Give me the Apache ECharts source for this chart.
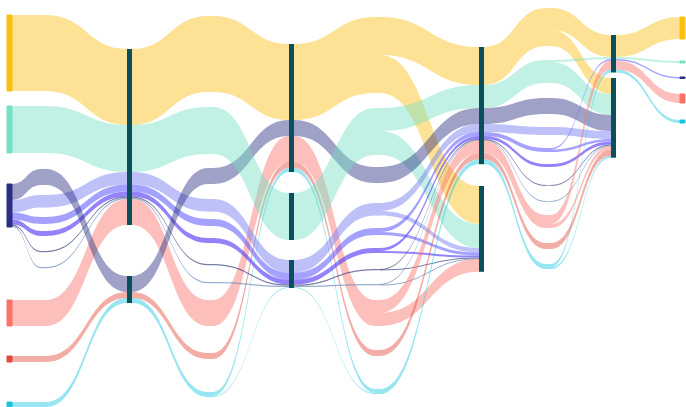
<!DOCTYPE html>
<html><head><meta charset="utf-8">
<script src="https://cdn.jsdelivr.net/npm/echarts@6/dist/echarts.min.js"></script>
<style>html,body{margin:0;padding:0;background:#fff}#c{width:686px;height:407px}</style>
</head><body><div id="c"></div>
<script>
// ---------------- DATA ----------------
// columns of nodes (top to bottom)
const sources  = ['Y-in','T-in','N-in','S-in','R-in','C-in'];
const hopFlows = ['Y','T','N','B1','B2','B3','G1','G2','S','R','C'];
const stage1 = ['s1-top','s1-low'];
const stage2 = ['s2-top','s2-mid','s2-low'];
const stage3 = ['s3-top','s3-low'];
const stage4 = ['s4-top','s4-low'];
const outcomes = ['Y-out','T-out','N-out','S-out','C-out'];

// links: [source, target, value, flow]
const seg01 = [['Y-in','Y@1',76,'Y'],['T-in','T@1',47,'T'],['N-in','N@1',16,'N'],['N-in','B1@1',12.6,'B1'],['N-in','B2@1',7,'B2'],['N-in','B3@1',5,'B3'],['N-in','G1@1',1.2,'G1'],['N-in','G2@1',1.2,'G2'],['S-in','S@1',26,'S'],['R-in','R@1',6,'R'],['C-in','C@1',5,'C']];
const seg12 = [['Y@1','s1-top',76,'Y'],['T@1','s1-top',47,'T'],['B1@1','s1-top',12.6,'B1'],['B2@1','s1-top',7,'B2'],['B3@1','s1-top',5,'B3'],['G1@1','s1-top',1.2,'G1'],['G2@1','s1-top',1.2,'G2'],['S@1','s1-top',26,'S'],['N@1','s1-low',16,'N'],['R@1','s1-low',6,'R'],['C@1','s1-low',5,'C']];
const seg23 = [['s1-top','Y@3',76,'Y'],['s1-top','T@3',47,'T'],['s1-top','B1@3',12.6,'B1'],['s1-top','B2@3',7,'B2'],['s1-top','B3@3',5,'B3'],['s1-top','G1@3',1.2,'G1'],['s1-top','G2@3',1.2,'G2'],['s1-top','S@3',26,'S'],['s1-low','N@3',16,'N'],['s1-low','R@3',6,'R'],['s1-low','C@3',5,'C']];
const seg34 = [['Y@3','s2-top',76,'Y'],['N@3','s2-top',16,'N'],['S@3','s2-top',26,'S'],['R@3','s2-top',6,'R'],['C@3','s2-top',4,'C'],['T@3','s2-mid',47,'T'],['B1@3','s2-low',12.6,'B1'],['B2@3','s2-low',7,'B2'],['B3@3','s2-low',5,'B3'],['G1@3','s2-low',1.2,'G1'],['G2@3','s2-low',1.2,'G2'],['C@3','s2-low',1,'C']];
const seg45 = [['s2-top','Y@5',76,'Y'],['s2-top','N@5',16,'N'],['s2-top','S@5',26,'S'],['s2-top','R@5',6,'R'],['s2-top','C@5',4,'C'],['s2-mid','T@5',47,'T'],['s2-low','B1@5',12.6,'B1'],['s2-low','B2@5',7,'B2'],['s2-low','B3@5',5,'B3'],['s2-low','G1@5',1.2,'G1'],['s2-low','G2@5',1.2,'G2'],['s2-low','C@5',1,'C']];
const seg56 = [['Y@5','s3-top',38,'Y'],['Y@5','s3-low',38,'Y'],['T@5','s3-top',23,'T'],['T@5','s3-low',24,'T'],['N@5','s3-top',16,'N'],['B1@5','s3-top',8,'B1'],['B1@5','s3-low',4.6,'B1'],['B2@5','s3-top',4,'B2'],['B2@5','s3-low',3,'B2'],['B3@5','s3-top',3,'B3'],['B3@5','s3-low',2,'B3'],['G1@5','s3-top',0.6,'G1'],['G1@5','s3-low',0.6,'G1'],['G2@5','s3-top',0.6,'G2'],['G2@5','s3-low',0.6,'G2'],['S@5','s3-top',13,'S'],['S@5','s3-low',13,'S'],['R@5','s3-top',6,'R'],['C@5','s3-top',5,'C']];
const seg67 = [['s3-top','Y@7',38,'Y'],['s3-top','T@7',23,'T'],['s3-top','N@7',16,'N'],['s3-top','B1@7',8,'B1'],['s3-top','B2@7',4,'B2'],['s3-top','B3@7',3,'B3'],['s3-top','G1@7',0.6,'G1'],['s3-top','G2@7',0.6,'G2'],['s3-top','S@7',13,'S'],['s3-top','R@7',6,'R'],['s3-top','C@7',5,'C']];
const seg78 = [['Y@7','s4-top',22,'Y'],['Y@7','s4-low',16,'Y'],['T@7','s4-top',2,'T'],['T@7','s4-low',21,'T'],['N@7','s4-low',16,'N'],['B1@7','s4-low',8,'B1'],['B2@7','s4-top',1.5,'B2'],['B2@7','s4-low',2.5,'B2'],['B3@7','s4-low',3,'B3'],['G1@7','s4-low',0.6,'G1'],['G2@7','s4-low',0.6,'G2'],['S@7','s4-top',9,'S'],['S@7','s4-low',4,'S'],['R@7','s4-low',6,'R'],['C@7','s4-top',3,'C'],['C@7','s4-low',2,'C']];
const seg89 = [['s4-top','Y-out',22,'Y'],['s4-top','T-out',2,'T'],['s4-top','N-out',1.5,'B2'],['s4-top','S-out',9,'S'],['s4-top','C-out',3,'C']];

// ---------------- LAYOUT / STYLE (kept apart from data) ----------------
const colX = [7,41,127,208,289,375,479,546,611,680];
const hopTop = {
  1:[15,106,169,195,217,231,251,267,300,356,402],
  3:[16,107,168,199,219,238,264,282,300,353,392],
  5:[17,108,167,203,228,248,269,284,300,350,389],
  7:[8,60,98,127,148,164,185,201,215,243,264]
};
const fixedTop = {
  'Y-in':15,'T-in':106,'N-in':184,'S-in':300,'R-in':356,'C-in':402,
  's1-top':49,'s1-low':276,
  's2-top':44,'s2-mid':193,'s2-low':260,
  's3-top':47,'s3-low':186,
  's4-top':35,'s4-low':78,
  'Y-out':17,'T-out':61,'N-out':77,'S-out':94,'C-out':120
};
const catColor = {Y:'#fbbf14',T:'#76e0c6',N:'#2b2f80',S:'#fa7268',R:'#e04a3a',C:'#16c5e0'};
const flowStyle = {
  Y:['#fbbf14',0.45],T:['#76e0c6',0.45],N:['#2b2f80',0.45],
  B1:['#7c83f2',0.5],B2:['#5b55ff',0.55],B3:['#5a40f5',0.65],
  G1:['#3c4580',0.7],G2:['#6a8ab8',0.7],
  S:['#fa7268',0.45],R:['#e04a3a',0.45],C:['#16c5e0',0.45]
};
const stageColor = '#0a4f5c';
const W = 686, NODE_W = 5;

// ---------------- BUILD ----------------
const columns = [
  sources.map(n=>({name:n, kind:'cat'})),
  hopFlows.map(f=>({name:f+'@1', kind:'hop', flow:f})),
  stage1.map(n=>({name:n, kind:'stage'})),
  hopFlows.map(f=>({name:f+'@3', kind:'hop', flow:f})),
  stage2.map(n=>({name:n, kind:'stage'})),
  hopFlows.map(f=>({name:f+'@5', kind:'hop', flow:f})),
  stage3.map(n=>({name:n, kind:'stage'})),
  hopFlows.map(f=>({name:f+'@7', kind:'hop', flow:f})),
  stage4.map(n=>({name:n, kind:'stage'})),
  outcomes.map(n=>({name:n, kind:'cat'}))
];
const allLinks = [].concat(seg01,seg12,seg23,seg34,seg45,seg56,seg67,seg78,seg89);

// node values (max of in/out) -> tallest column defines pixel scale
const inSum = {}, outSum = {};
allLinks.forEach(([s,t,v])=>{ outSum[s]=(outSum[s]||0)+v; inSum[t]=(inSum[t]||0)+v; });
let maxCol = 0;
columns.forEach(col=>{
  let s=0; col.forEach(n=>{ s += Math.max(inSum[n.name]||0, outSum[n.name]||0); });
  maxCol = Math.max(maxCol, s);
});
const H = maxCol; // 1 value unit = 1 px

const nodes = [];
columns.forEach((col,ci)=>{
  col.forEach((n,ri)=>{
    const top = n.kind==='hop' ? hopTop[ci][ri] : fixedTop[n.name];
    const item = {name:n.name, depth:ci, localX: colX[ci]/W, localY: top/H};
    if (n.kind==='cat') {
      const c = catColor[n.name[0]];
      item.itemStyle = {color:c, borderColor:c, borderWidth:1, opacity:1};
    } else if (n.kind==='stage') {
      item.itemStyle = {color:stageColor, borderWidth:0, opacity:1};
    } else {
      const fs = flowStyle[n.flow];
      item.itemStyle = {color:fs[0], opacity:fs[1], borderWidth:0};
    }
    nodes.push(item);
  });
});
const links = allLinks.map(([s,t,v,f])=>({
  source:s, target:t, value:v,
  lineStyle:{color:flowStyle[f][0], opacity:flowStyle[f][1]}
}));

const chart = echarts.init(document.getElementById('c'), null, {renderer:'canvas'});
chart.setOption({
  animation:false,
  series:[{
    type:'sankey',
    left:0, top:0, width:W, height:H,
    nodeWidth:NODE_W, nodeGap:0,
    layoutIterations:0, nodeAlign:'left', draggable:false,
    label:{show:false},
    emphasis:{disabled:true},
    lineStyle:{curveness:0.5},
    data:nodes, links:links
  }]
});
</script></body></html>
